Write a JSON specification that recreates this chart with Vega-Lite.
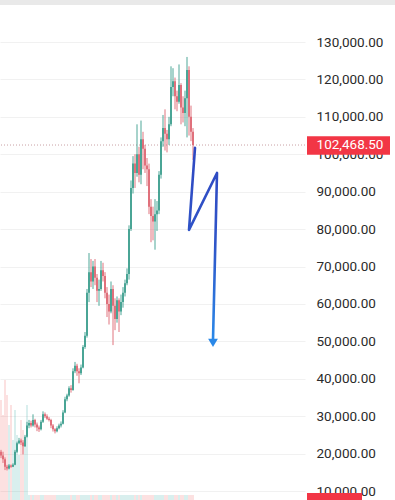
{
  "$schema": "https://vega.github.io/schema/vega-lite/v6.json",
  "autosize": "none",
  "width": 305,
  "height": 500,
  "padding": {"left": 0, "top": 0, "right": 90, "bottom": 0},
  "background": "white",
  "config": {"view": {"stroke": null}, "font": "Roboto"},
  "datasets": {
    "candles": [
      {"i":0,"o":20500,"h":21000,"l":18800,"c":19500,"v":20},
      {"i":1,"o":19500,"h":20500,"l":17500,"c":18500,"v":17},
      {"i":2,"o":18500,"h":19000,"l":15600,"c":16500,"v":24},
      {"i":3,"o":16500,"h":17000,"l":15500,"c":16000,"v":21},
      {"i":4,"o":16000,"h":17200,"l":15800,"c":16800,"v":15},
      {"i":5,"o":16800,"h":17100,"l":16200,"c":16500,"v":19},
      {"i":6,"o":16500,"h":17400,"l":16400,"c":17000,"v":12},
      {"i":7,"o":17000,"h":21000,"l":16900,"c":20500,"v":18},
      {"i":8,"o":20500,"h":23200,"l":20200,"c":22800,"v":13},
      {"i":9,"o":22800,"h":24200,"l":22500,"c":23500,"v":9},
      {"i":10,"o":23500,"h":24000,"l":22300,"c":23000,"v":16},
      {"i":11,"o":23000,"h":23600,"l":19800,"c":22000,"v":14},
      {"i":12,"o":22000,"h":25000,"l":21800,"c":24500,"v":11},
      {"i":13,"o":24500,"h":28500,"l":24300,"c":27500,"v":19},
      {"i":14,"o":27500,"h":29000,"l":26800,"c":28200,"v":1},
      {"i":15,"o":28200,"h":28800,"l":27000,"c":27500,"v":1},
      {"i":16,"o":27500,"h":30500,"l":27200,"c":29000,"v":1},
      {"i":17,"o":29000,"h":29300,"l":27000,"c":27800,"v":1},
      {"i":18,"o":27800,"h":28300,"l":26000,"c":27000,"v":1},
      {"i":19,"o":27000,"h":27500,"l":25800,"c":26500,"v":1},
      {"i":20,"o":26500,"h":29000,"l":26200,"c":28500,"v":1},
      {"i":21,"o":28500,"h":31300,"l":28200,"c":30500,"v":1},
      {"i":22,"o":30500,"h":31000,"l":29500,"c":30000,"v":1},
      {"i":23,"o":30000,"h":30500,"l":29000,"c":29300,"v":1},
      {"i":24,"o":29300,"h":29800,"l":28600,"c":29000,"v":1},
      {"i":25,"o":29000,"h":29300,"l":26800,"c":27500,"v":1},
      {"i":26,"o":27500,"h":27900,"l":25900,"c":26500,"v":1},
      {"i":27,"o":26500,"h":26800,"l":25400,"c":26000,"v":1},
      {"i":28,"o":26000,"h":27300,"l":25700,"c":26800,"v":1},
      {"i":29,"o":26800,"h":28000,"l":26500,"c":27500,"v":1},
      {"i":30,"o":27500,"h":28600,"l":27000,"c":28000,"v":1},
      {"i":31,"o":28000,"h":31600,"l":27800,"c":31000,"v":1},
      {"i":32,"o":31000,"h":35200,"l":30800,"c":34500,"v":1},
      {"i":33,"o":34500,"h":36000,"l":34000,"c":35500,"v":1},
      {"i":34,"o":35500,"h":38000,"l":35200,"c":37500,"v":1},
      {"i":35,"o":37500,"h":38300,"l":36300,"c":37000,"v":1},
      {"i":36,"o":37000,"h":42800,"l":36800,"c":42000,"v":1},
      {"i":37,"o":42000,"h":44500,"l":41500,"c":43500,"v":1},
      {"i":38,"o":43500,"h":44000,"l":40800,"c":42000,"v":1},
      {"i":39,"o":42000,"h":42800,"l":38800,"c":41500,"v":1},
      {"i":40,"o":41500,"h":43800,"l":41000,"c":43000,"v":1},
      {"i":41,"o":43000,"h":49000,"l":42800,"c":48500,"v":1},
      {"i":42,"o":48500,"h":52500,"l":48000,"c":51500,"v":1},
      {"i":43,"o":51500,"h":64000,"l":51000,"c":63000,"v":1},
      {"i":44,"o":63000,"h":73600,"l":60500,"c":68500,"v":1},
      {"i":45,"o":68500,"h":72000,"l":64500,"c":66000,"v":1},
      {"i":46,"o":66000,"h":71500,"l":64000,"c":70000,"v":1},
      {"i":47,"o":70000,"h":72000,"l":65000,"c":67000,"v":1},
      {"i":48,"o":67000,"h":68000,"l":60500,"c":63500,"v":1},
      {"i":49,"o":63500,"h":66500,"l":59500,"c":64000,"v":1},
      {"i":50,"o":64000,"h":71500,"l":63500,"c":69000,"v":1},
      {"i":51,"o":69000,"h":71000,"l":66000,"c":67500,"v":1},
      {"i":52,"o":67500,"h":68500,"l":61500,"c":63000,"v":1},
      {"i":53,"o":63000,"h":64500,"l":56500,"c":60000,"v":1},
      {"i":54,"o":60000,"h":62500,"l":54500,"c":58000,"v":1},
      {"i":55,"o":58000,"h":66000,"l":57500,"c":64000,"v":1},
      {"i":56,"o":64000,"h":65000,"l":49000,"c":59500,"v":1},
      {"i":57,"o":59500,"h":61500,"l":53000,"c":56000,"v":1},
      {"i":58,"o":56000,"h":62000,"l":55000,"c":61000,"v":1},
      {"i":59,"o":61000,"h":61500,"l":52500,"c":58000,"v":1},
      {"i":60,"o":58000,"h":62500,"l":57000,"c":60500,"v":1},
      {"i":61,"o":60500,"h":64500,"l":59000,"c":63000,"v":1},
      {"i":62,"o":63000,"h":66500,"l":62000,"c":65500,"v":1},
      {"i":63,"o":65500,"h":69500,"l":65000,"c":68000,"v":1},
      {"i":64,"o":68000,"h":81000,"l":66500,"c":80000,"v":1},
      {"i":65,"o":80000,"h":93000,"l":79500,"c":91000,"v":1},
      {"i":66,"o":91000,"h":99500,"l":89500,"c":97500,"v":1},
      {"i":67,"o":97500,"h":100000,"l":91000,"c":95000,"v":1},
      {"i":68,"o":95000,"h":108000,"l":94000,"c":100000,"v":1},
      {"i":69,"o":100000,"h":102000,"l":92500,"c":94500,"v":1},
      {"i":70,"o":94500,"h":109000,"l":92000,"c":104000,"v":1},
      {"i":71,"o":104000,"h":106000,"l":96000,"c":101500,"v":1},
      {"i":72,"o":101500,"h":102500,"l":95000,"c":97000,"v":1},
      {"i":73,"o":97000,"h":99000,"l":91500,"c":96000,"v":1},
      {"i":74,"o":96000,"h":97500,"l":84000,"c":86000,"v":1},
      {"i":75,"o":86000,"h":88000,"l":76500,"c":83500,"v":1},
      {"i":76,"o":83500,"h":86000,"l":77000,"c":82000,"v":1},
      {"i":77,"o":82000,"h":88000,"l":74500,"c":84000,"v":1},
      {"i":78,"o":84000,"h":87500,"l":79500,"c":85000,"v":1},
      {"i":79,"o":85000,"h":95500,"l":84000,"c":94500,"v":1},
      {"i":80,"o":94500,"h":104500,"l":93500,"c":103500,"v":1},
      {"i":81,"o":103500,"h":110500,"l":102000,"c":107000,"v":1},
      {"i":82,"o":107000,"h":112000,"l":101000,"c":105500,"v":1},
      {"i":83,"o":105500,"h":106500,"l":100500,"c":104000,"v":1},
      {"i":84,"o":104000,"h":110000,"l":102500,"c":108000,"v":1},
      {"i":85,"o":108000,"h":123500,"l":107500,"c":118000,"v":1},
      {"i":86,"o":118000,"h":123000,"l":115500,"c":119500,"v":1},
      {"i":87,"o":119500,"h":120500,"l":112000,"c":115500,"v":1},
      {"i":88,"o":115500,"h":117000,"l":111500,"c":114000,"v":1},
      {"i":89,"o":114000,"h":124000,"l":113500,"c":118500,"v":1},
      {"i":90,"o":118500,"h":119000,"l":108000,"c":112500,"v":1},
      {"i":91,"o":112500,"h":115500,"l":108500,"c":111000,"v":1},
      {"i":92,"o":111000,"h":117000,"l":107500,"c":115000,"v":1},
      {"i":93,"o":115000,"h":126000,"l":104500,"c":122500,"v":1},
      {"i":94,"o":122500,"h":123500,"l":105000,"c":110000,"v":1},
      {"i":95,"o":110000,"h":113000,"l":103500,"c":106000,"v":1},
      {"i":96,"o":106000,"h":107000,"l":98500,"c":102500,"v":1}
    ],
    "arrow": [
      {"k":0,"x":97,"p":101700},
      {"k":1,"x":94,"p":79800},
      {"k":2,"x":108,"p":95000},
      {"k":3,"x":106,"p":50400}
    ],
    "last": [
      {"label":"102,468.50","price":102468.5}
    ]
  },
  "layer": [
    {
      "data": {"name": "candles"},
      "mark": {"type": "bar", "width": 1.6, "opacity": 0.22},
      "encoding": {
        "x": {"field": "i", "type": "quantitative", "scale": {"domain": [-0.5, 152], "nice": false, "padding": 0}, "axis": null},
        "y": {"field": "v", "type": "quantitative", "scale": {"domain": [0, 100]}, "axis": null},
        "color": {"condition": {"test": "datum.c >= datum.o", "value": "#26a69a"}, "value": "#ef5350"}
      }
    },
    {
      "layer": [
        {
          "data": {"name": "last"},
          "mark": {"type": "rule", "strokeDash": [1, 2], "strokeWidth": 1, "color": "#c9a0a4"},
          "encoding": {
            "y": {"field": "price", "type": "quantitative", "scale": {"domain": [7606, 141224], "nice": false, "zero": false},
              "axis": {"orient": "right", "values": [10000,20000,30000,40000,50000,60000,70000,80000,90000,100000,110000,120000,130000],
                "format": ",.2f", "title": null, "labelFont": "Roboto", "labelFontSize": 13.5, "labelColor": "#2b2b2b",
                "labelAlign": "left", "labelBaseline": "middle", "labelPadding": 11, "ticks": false, "domain": false,
                "grid": true, "gridColor": "#f1f1f1", "gridWidth": 1, "labelOverlap": false, "labelBound": false, "labelFlush": false}}
          }
        },
        {
          "data": {"name": "last"},
          "mark": {"type": "rect", "color": "#e9e9e9", "clip": false},
          "encoding": {
            "x": {"datum": -0.5, "type": "quantitative", "scale": {"domain": [-0.5, 152], "nice": false, "padding": 0}, "axis": null},
            "x2": {"datum": 197},
            "y": {"datum": 141224, "type": "quantitative"},
            "y2": {"datum": 139900}
          }
        },
        {
          "data": {"name": "candles"},
          "mark": {"type": "rule", "strokeWidth": 0.9},
          "encoding": {
            "x": {"field": "i", "type": "quantitative", "scale": {"domain": [-0.5, 152], "nice": false, "padding": 0},
              "axis": {"values": [6, 37, 69.5, 100.5, 132], "labels": false, "ticks": false, "domain": false, "grid": true, "gridColor": "#ececec", "title": null}},
            "y": {"field": "l", "type": "quantitative"},
            "y2": {"field": "h"},
            "color": {"condition": {"test": "datum.c >= datum.o", "value": "#3a9d8c"}, "value": "#dd6470"}
          }
        },
        {
          "data": {"name": "candles"},
          "mark": {"type": "bar", "width": 1.7},
          "encoding": {
            "x": {"field": "i", "type": "quantitative", "scale": {"domain": [-0.5, 152], "nice": false, "padding": 0}, "axis": null},
            "y": {"field": "o", "type": "quantitative"},
            "y2": {"field": "c"},
            "color": {"condition": {"test": "datum.c >= datum.o", "value": "#3a9d8c"}, "value": "#dd6470"}
          }
        },
        {
          "data": {"name": "arrow"},
          "mark": {"type": "line", "strokeWidth": 2.6, "strokeCap": "round", "strokeJoin": "round",
            "stroke": {"gradient": "linear", "x1": 0, "y1": 0, "x2": 0, "y2": 1,
              "stops": [{"offset": 0, "color": "#2f48c2"}, {"offset": 0.5, "color": "#2f55c8"}, {"offset": 1, "color": "#2a88e8"}]}},
          "encoding": {
            "x": {"field": "x", "type": "quantitative", "scale": {"domain": [-0.5, 152], "nice": false, "padding": 0}, "axis": null},
            "y": {"field": "p", "type": "quantitative"},
            "order": {"field": "k"}
          }
        },
        {
          "data": {"name": "arrow"},
          "transform": [{"filter": "datum.k == 3"}],
          "mark": {"type": "point", "shape": "triangle-down", "filled": true, "size": 95, "color": "#2a88e8", "opacity": 1, "yOffset": 3},
          "encoding": {
            "x": {"field": "x", "type": "quantitative", "scale": {"domain": [-0.5, 152], "nice": false, "padding": 0}, "axis": null},
            "y": {"field": "p", "type": "quantitative"}
          }
        },
        {
          "data": {"name": "last"},
          "mark": {"type": "rect", "color": "#f23645", "clip": false},
          "encoding": {
            "x": {"datum": 153, "type": "quantitative", "scale": {"domain": [-0.5, 152], "nice": false, "padding": 0}, "axis": null},
            "x2": {"datum": 194.5},
            "y": {"datum": 104800, "type": "quantitative"},
            "y2": {"datum": 99900}
          }
        },
        {
          "data": {"name": "last"},
          "mark": {"type": "text", "color": "white", "font": "Roboto", "fontSize": 13.5, "align": "center", "baseline": "middle", "clip": false},
          "encoding": {
            "x": {"datum": 174.5, "type": "quantitative", "scale": {"domain": [-0.5, 152], "nice": false, "padding": 0}, "axis": null},
            "y": {"field": "price", "type": "quantitative"},
            "text": {"field": "label"}
          }
        },
        {
          "data": {"name": "last"},
          "mark": {"type": "rect", "color": "#f23645", "clip": false},
          "encoding": {
            "x": {"datum": 153, "type": "quantitative", "scale": {"domain": [-0.5, 152], "nice": false, "padding": 0}, "axis": null},
            "x2": {"datum": 180.5},
            "y": {"datum": 9450, "type": "quantitative"},
            "y2": {"datum": 6000}
          }
        }
      ]
    }
  ],
  "resolve": {"scale": {"y": "independent"}}
}
